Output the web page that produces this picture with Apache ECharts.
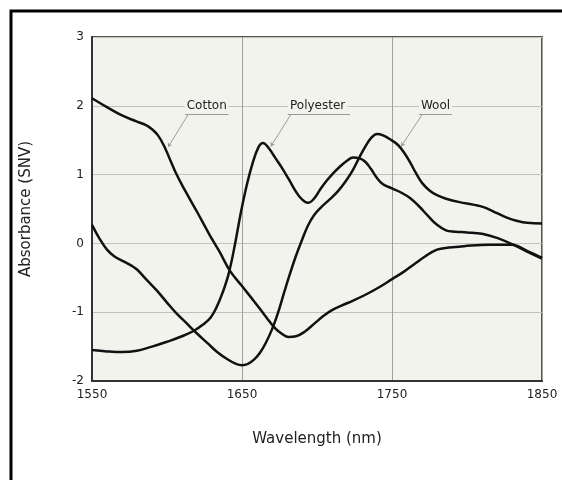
<!DOCTYPE html>
<html>
<head>
<meta charset="utf-8">
<script src="https://cdn.jsdelivr.net/npm/echarts@6/dist/echarts.min.js"></script>
<style>
  html, body { margin: 0; padding: 0; background: #fff; }
  #chart { width: 562px; height: 480px; }
</style>
</head>
<body>
<div id="chart"></div>
<script>
// wavelength (nm) / absorbance (SNV)
const cottonNm  = [1550, 1560, 1570, 1580, 1586, 1590, 1594, 1598, 1602, 1606, 1612, 1620, 1628, 1635, 1642, 1650, 1658, 1665, 1672, 1677, 1681, 1686, 1692, 1698, 1704, 1710, 1720, 1732, 1742, 1750, 1758, 1765, 1772, 1780, 1788, 1798, 1815, 1830, 1840, 1850];
const cottonAbs = [2.11, 1.98, 1.86, 1.77, 1.72, 1.66, 1.57, 1.42, 1.22, 1.02, 0.77, 0.46, 0.14, -0.12, -0.40, -0.62, -0.84, -1.04, -1.23, -1.32, -1.36, -1.35, -1.28, -1.17, -1.06, -0.97, -0.87, -0.75, -0.63, -0.52, -0.41, -0.30, -0.19, -0.09, -0.06, -0.04, -0.02, -0.02, -0.11, -0.21];

const polyNm  = [1550, 1560, 1570, 1580, 1590, 1600, 1610, 1618, 1624, 1629, 1633, 1637, 1641, 1645, 1649, 1653, 1657, 1661, 1664, 1668, 1672, 1676, 1681, 1686, 1690, 1694, 1698, 1702, 1706, 1710, 1715, 1720, 1724, 1728, 1732, 1736, 1740, 1744, 1750, 1756, 1762, 1768, 1774, 1780, 1786, 1792, 1800, 1810, 1820, 1831, 1840, 1850];
const polyAbs = [-1.55, -1.57, -1.58, -1.56, -1.50, -1.43, -1.35, -1.27, -1.18, -1.08, -0.93, -0.72, -0.45, -0.05, 0.42, 0.83, 1.16, 1.40, 1.46, 1.38, 1.25, 1.12, 0.94, 0.75, 0.64, 0.59, 0.65, 0.78, 0.90, 1.00, 1.11, 1.20, 1.25, 1.24, 1.19, 1.08, 0.95, 0.86, 0.80, 0.74, 0.66, 0.54, 0.40, 0.27, 0.19, 0.17, 0.16, 0.14, 0.08, -0.02, -0.12, -0.22];

const woolNm  = [1550, 1555, 1560, 1565, 1571, 1576, 1580, 1586, 1593, 1600, 1606, 1613, 1620, 1627, 1633, 1640, 1646, 1650, 1654, 1658, 1662, 1666, 1670, 1674, 1678, 1682, 1686, 1690, 1694, 1698, 1703, 1709, 1714, 1719, 1724, 1728, 1732, 1736, 1740, 1744, 1749, 1754, 1758, 1762, 1766, 1770, 1775, 1780, 1786, 1795, 1805, 1812, 1820, 1827, 1833, 1840, 1850];
const woolAbs = [0.27, 0.07, -0.09, -0.19, -0.26, -0.32, -0.38, -0.52, -0.68, -0.86, -1.01, -1.16, -1.31, -1.45, -1.57, -1.68, -1.75, -1.77, -1.75, -1.69, -1.59, -1.44, -1.25, -1.01, -0.72, -0.44, -0.18, 0.05, 0.26, 0.41, 0.53, 0.65, 0.76, 0.90, 1.07, 1.24, 1.40, 1.53, 1.59, 1.57, 1.51, 1.43, 1.32, 1.18, 1.02, 0.88, 0.77, 0.70, 0.65, 0.60, 0.56, 0.52, 0.44, 0.37, 0.33, 0.30, 0.29];

const xTicks = [1550, 1650, 1750, 1850];
const yTicks = [-2, -1, 0, 1, 2, 3];

// callout labels: text anchor, underline span, leader line (data coords)
const calloutText  = ['Cotton', 'Polyester', 'Wool'];
const calloutAt    = [[1626.5, 2.0], [1700.4, 2.0], [1779, 2.0]];
const underlineX   = [[1612, 1641], [1680.5, 1722], [1768, 1790]];
const underlineY   = 1.87;
const leaderTo     = [[1600.7, 1.40], [1669.2, 1.41], [1756.1, 1.41]];

const zip = (xs, ys) => xs.map((x, i) => [x, ys[i]]);

const font = 'DejaVu Sans, Verdana, sans-serif';

function callout(i) {
  const u = underlineX[i];
  return {
    markPoint: {
      silent: true,
      symbol: 'circle',
      symbolSize: 1,
      itemStyle: { color: 'rgba(0,0,0,0)' },
      label: {
        show: true,
        position: 'inside',
        formatter: calloutText[i],
        color: '#222',
        fontFamily: font,
        fontSize: 12,
        backgroundColor: '#f3f3ee',
        padding: [1, 2]
      },
      data: [{ coord: calloutAt[i] }]
    },
    markLine: {
      silent: true,
      symbol: ['none', 'none'],
      label: { show: false },
      lineStyle: { color: '#9a9a9a', width: 1, type: 'solid' },
      data: [
        [{ coord: [u[0], underlineY] }, { coord: [u[1], underlineY] }],
        [{ coord: [u[0] + 2, underlineY] }, { coord: leaderTo[i], symbol: 'arrow', symbolSize: 4 }]
      ]
    }
  };
}

const chart = echarts.init(document.getElementById('chart'));

const lineSeries = (name, data, i) => Object.assign({
  name: name,
  type: 'line',
  data: data,
  smooth: 0.4,
  showSymbol: false,
  lineStyle: { color: '#111', width: 2.5 },
  z: 3
}, callout(i));

chart.setOption({
  animation: false,
  backgroundColor: '#fff',
  graphic: [{
    type: 'rect',
    shape: { x: 11, y: 11, width: 600, height: 500 },
    style: { fill: 'none', stroke: '#000', lineWidth: 3 },
    silent: true
  }],
  grid: {
    left: 92, top: 37, right: 20, bottom: 99,
    show: true,
    backgroundColor: '#f3f3ee',
    borderColor: '#555',
    borderWidth: 2,
    outerBoundsMode: 'none'
  },
  xAxis: {
    type: 'value',
    min: 1550, max: 1850, interval: 100,
    name: 'Wavelength (nm)',
    nameLocation: 'middle',
    nameGap: 51,
    nameTextStyle: { color: '#222', fontFamily: font, fontSize: 15 },
    axisLine: { onZero: false, lineStyle: { color: '#333', width: 2 } },
    axisTick: { show: false },
    axisLabel: {
      color: '#222', fontFamily: font, fontSize: 12, margin: 8,
      customValues: xTicks,
      formatter: v => String(v)
    },
    splitLine: { lineStyle: { color: '#a0a0a0', width: 1 } }
  },
  yAxis: {
    type: 'value',
    min: -2, max: 3, interval: 1,
    name: 'Absorbance (SNV)',
    nameLocation: 'middle',
    nameGap: 58,
    nameTextStyle: { color: '#222', fontFamily: font, fontSize: 15 },
    axisLine: { show: true, onZero: false, lineStyle: { color: '#333', width: 2 } },
    axisTick: { show: false },
    axisLabel: {
      color: '#222', fontFamily: font, fontSize: 12, margin: 8,
      customValues: yTicks
    },
    splitLine: { lineStyle: { color: '#c2c2ba', width: 1 } }
  },
  series: [
    lineSeries('Cotton', zip(cottonNm, cottonAbs), 0),
    lineSeries('Polyester', zip(polyNm, polyAbs), 1),
    lineSeries('Wool', zip(woolNm, woolAbs), 2)
  ]
});
</script>
</body>
</html>
